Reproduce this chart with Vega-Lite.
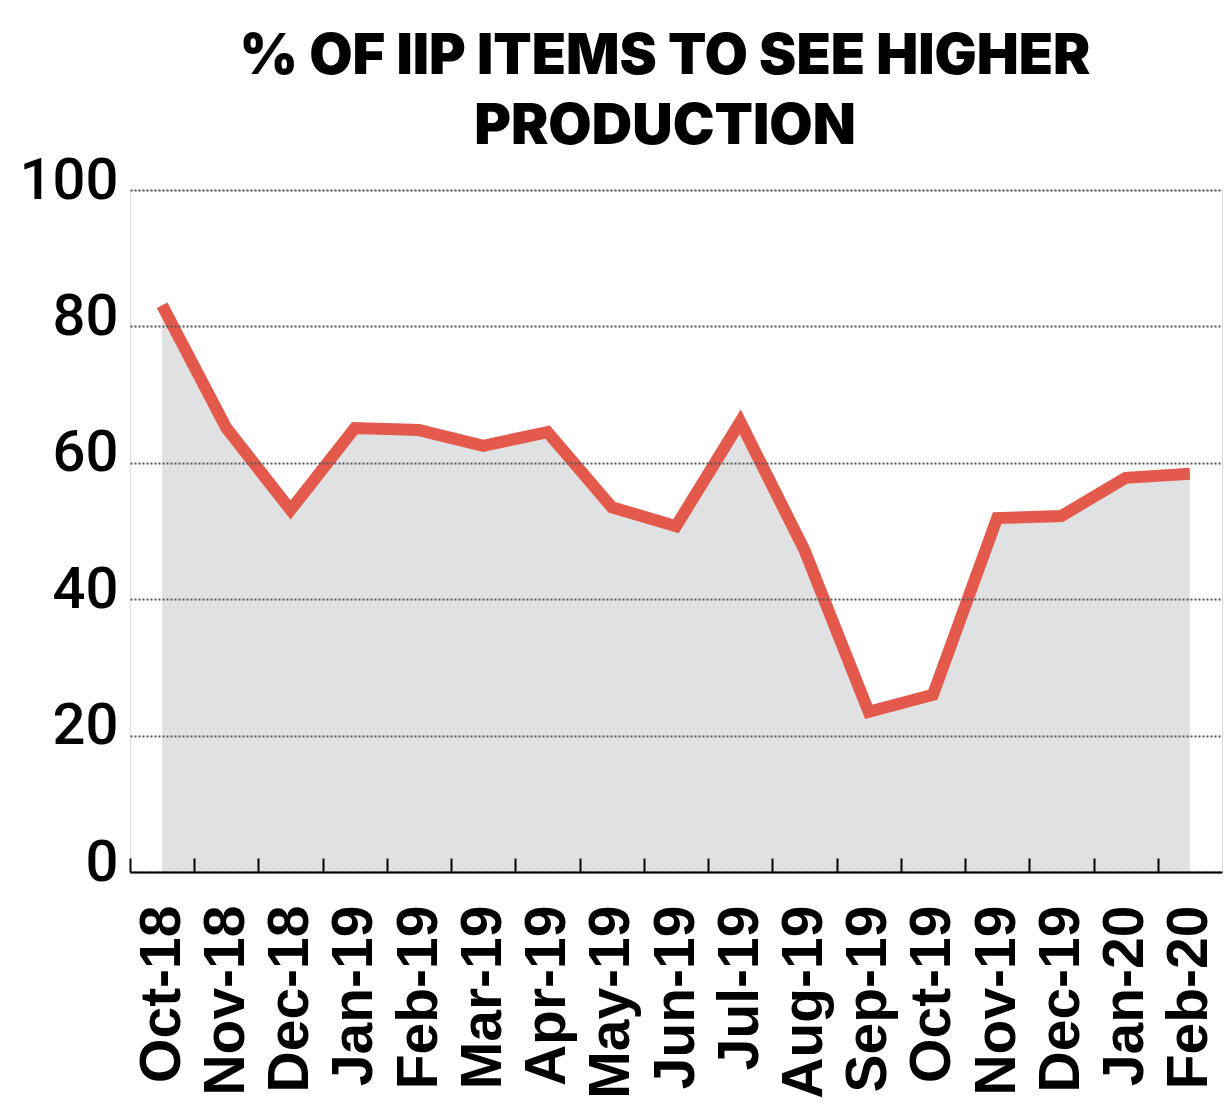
{
  "$schema": "https://vega.github.io/schema/vega-lite/v6.json",
  "autosize": "none",
  "width": 1092,
  "height": 682,
  "padding": {"left": 130, "top": 190, "right": 4, "bottom": 232},
  "background": "white",
  "title": {
    "text": ["% OF IIP ITEMS TO SEE HIGHER", "PRODUCTION"],
    "font": "Inter",
    "fontSize": 56,
    "fontWeight": 900,
    "color": "#000000",
    "lineHeight": 70,
    "anchor": "middle",
    "dx": -11,
    "offset": -4
  },
  "data": {
    "values": [
      {"month": "Oct-18", "pct": 83.1},
      {"month": "Nov-18", "pct": 65.1},
      {"month": "Dec-18", "pct": 53.1},
      {"month": "Jan-19", "pct": 65.1},
      {"month": "Feb-19", "pct": 64.8},
      {"month": "Mar-19", "pct": 62.5},
      {"month": "Apr-19", "pct": 64.5},
      {"month": "May-19", "pct": 53.5},
      {"month": "Jun-19", "pct": 50.7},
      {"month": "Jul-19", "pct": 66.0},
      {"month": "Aug-19", "pct": 47.2},
      {"month": "Sep-19", "pct": 23.5},
      {"month": "Oct-19", "pct": 26.0},
      {"month": "Nov-19", "pct": 51.9},
      {"month": "Dec-19", "pct": 52.2},
      {"month": "Jan-20", "pct": 57.8},
      {"month": "Feb-20", "pct": 58.4}
    ]
  },
  "encoding": {
    "x": {
      "field": "month",
      "type": "ordinal",
      "sort": null,
      "scale": {"type": "point", "padding": 0.5},
      "axis": {
        "title": null,
        "zindex": 1,
        "domainColor": "#000000",
        "domainWidth": 2,
        "ticks": true,
        "tickColor": "#000000",
        "tickWidth": 2,
        "tickSize": -14,
        "tickOffset": -32.12,
        "labelOffset": 32.12,
        "labelAngle": -90,
        "labelAlign": "right",
        "labelBaseline": "middle",
        "labelPadding": 47,
        "labelLimit": 0,
        "labelFont": "Liberation Sans",
        "labelFontWeight": "bold",
        "labelFontSize": 57,
        "labelColor": "#000000",
        "grid": false
      }
    },
    "y": {
      "field": "pct",
      "type": "quantitative",
      "scale": {"domain": [0, 100], "nice": false},
      "axis": {
        "title": null,
        "zindex": 1,
        "values": [0, 20, 40, 60, 80, 100],
        "domain": false,
        "ticks": false,
        "labelPadding": 12,
        "labelOffset": -9,
        "labelFont": "Roboto",
        "labelFontWeight": 500,
        "labelFontSize": 58,
        "labelColor": "#000000",
        "grid": true,
        "gridColor": "#555555",
        "gridWidth": 2,
        "gridDash": [2, 2]
      }
    }
  },
  "layer": [
    {"mark": {"type": "area", "color": "#e0e1e3", "opacity": 1}},
    {"mark": {"type": "line", "color": "#e35a4c", "strokeWidth": 12, "strokeJoin": "miter", "strokeCap": "butt", "zindex": 2}}
  ]
}
